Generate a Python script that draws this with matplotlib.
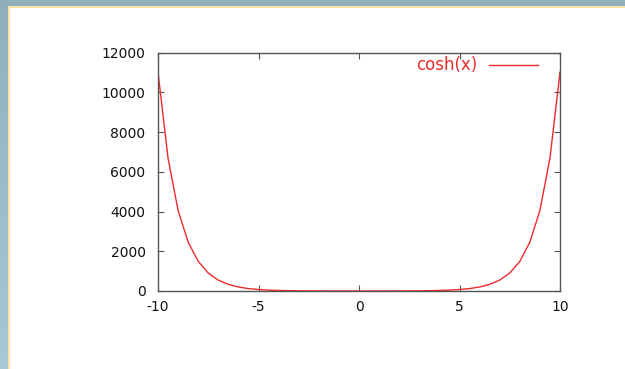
import matplotlib
matplotlib.use("Agg")
import matplotlib.pyplot as plt
import numpy as np
from matplotlib.patches import Rectangle
from matplotlib.lines import Line2D
from matplotlib.colors import LinearSegmentedColormap

# data (cosh(x) curve)
x_vals = [-10, -9.5, -9, -8.5, -8, -7.5, -7, -6.5, -6, -5.5, -5, -4.5, -4, -3.5, -3,
          -2.5, -2, -1.5, -1, -0.5, 0, 0.5, 1, 1.5, 2, 2.5, 3, 3.5, 4, 4.5, 5, 5.5,
          6, 6.5, 7, 7.5, 8, 8.5, 9, 9.5, 10]
y_vals = [11013, 6679, 4051, 2457, 1490, 904, 548, 332, 202, 122, 74, 45, 27, 17, 10,
          6, 4, 2, 2, 1, 1, 1, 2, 2, 4, 6, 10, 17, 27, 45, 74, 122,
          202, 332, 548, 904, 1490, 2457, 4051, 6679, 11013]
series_label = "cosh(x)"
x_ticks = [-10, -5, 0, 5, 10]
y_ticks = [0, 2000, 4000, 6000, 8000, 10000, 12000]

plt.rcParams['font.family'] = ['DejaVu Sans']

W, H = 625, 369
RED = '#ee2a2a'
fig = plt.figure(figsize=(W / 100, H / 100), dpi=100)
fig.patch.set_facecolor('white')

# frame decoration: blue band top/left with thin yellow inner line
bg = fig.add_axes([0, 0, 1, 1], zorder=-10)
grad = np.linspace(0, 1, 100).reshape(-1, 1)
cmap = LinearSegmentedColormap.from_list('b', ['#8fb0bb', '#a6c9d7'])
bg.imshow(grad, extent=(0, 7.5, H, 0), cmap=cmap, aspect='auto')
bg.add_patch(Rectangle((0, 0), W, 6, color='#8fb0bb', lw=0))
bg.add_patch(Rectangle((7.5, 6), 2.5, H, color='#fde2a4', lw=0))
bg.add_patch(Rectangle((7.5, 6), W, 2, color='#fde2a4', lw=0))
bg.set_xlim(0, W)
bg.set_ylim(H, 0)
bg.axis('off')

ax = fig.add_axes([158 / W, 1 - 291 / H, (560 - 158) / W, (291 - 52.5) / H])
ax.plot(x_vals, y_vals, color=RED, lw=1.0, label=series_label)
ax.set_xlim(-10, 10)
ax.set_ylim(0, 12000)
ax.set_xticks(x_ticks)
ax.set_yticks(y_ticks)
ax.set_xticklabels([str(t) for t in x_ticks])
ax.set_yticklabels([str(t) for t in y_ticks])
ax.tick_params(direction='in', length=4, width=0.8, color='#555555',
               top=True, right=True, labelsize=10, labelcolor='#111111')
ax.tick_params(axis='y', pad=9)
ax.tick_params(axis='x', pad=6.5)
for s in ax.spines.values():
    s.set_color('#555555')
    s.set_linewidth(1.0)

# key (legend) placed like gnuplot's: text then sample line
fig.text(477 / W, 1 - 65 / H, series_label, color=RED, fontsize=12,
         ha='right', va='center')
fig.add_artist(Line2D([489 / W, 538 / W], [1 - 65 / H, 1 - 65 / H],
                      transform=fig.transFigure, color=RED, lw=1.0))

fig.savefig('out.png', dpi=100)
